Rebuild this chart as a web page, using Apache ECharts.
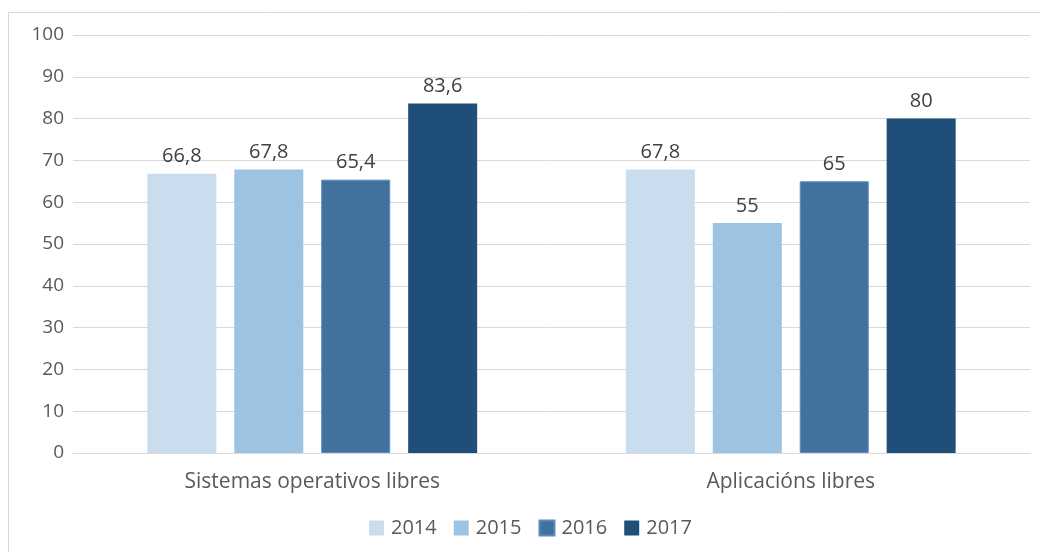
<!DOCTYPE html>
<html>
<head>
<meta charset="utf-8">
<script src="https://cdn.jsdelivr.net/npm/echarts@6/dist/echarts.min.js"></script>
<style>
  html, body { margin: 0; padding: 0; background: #fff; }
  #chart { width: 1040px; height: 552px; }
</style>
</head>
<body>
<div id="chart"></div>
<script>
var categories = ['Sistemas operativos libres', 'Aplicacións libres'];
var years = ['2014', '2015', '2016', '2017'];
var values2014 = [66.8, 67.8];
var values2015 = [67.8, 55];
var values2016 = [65.4, 65];
var values2017 = [83.6, 80];
var yTicks = { min: 0, max: 100, interval: 10 };

var colors = ['#c9ddef', '#9dc3e3', '#41719c', '#1f4e79'];
var seriesData = [values2014, values2015, values2016, values2017];
var font = '"Open Sans", sans-serif';

var myChart = echarts.init(document.getElementById('chart'));

var series = years.map(function (y, i) {
    return {
        name: y,
        type: 'bar',
        data: seriesData[i],
        barWidth: 69,
        barGap: '26%',
        itemStyle: {
            color: colors[i],
            borderColor: i == 2 ? '#5b8bbd' : colors[i],
            borderWidth: i == 2 ? 1 : 0
        },
        label: {
            show: true,
            position: 'top',
            distance: 7,
            color: '#404040',
            fontSize: 20,
            fontFamily: font,
            formatter: function (p) {
                return String(p.value).replace('.', ',');
            }
        }
    };
});

myChart.setOption({
    animation: false,
    graphic: [{
        type: 'rect',
        shape: { x: 8.5, y: 12.5, width: 1040, height: 560 },
        style: { fill: 'none', stroke: '#d9d9d9', lineWidth: 1 },
        silent: true
    }],
    grid: { left: 73, right: 10, top: 35, bottom: 99 },
    legend: {
        bottom: 9,
        left: 364,
        itemWidth: 15,
        itemHeight: 15,
        itemGap: 17,
        icon: 'rect',
        textStyle: { color: '#595959', fontSize: 20, fontFamily: font, padding: [0, 0, 0, 2] },
        data: years
    },
    xAxis: {
        type: 'category',
        data: categories,
        axisLine: { lineStyle: { color: '#d9d9d9', width: 1 } },
        axisTick: { show: false },
        axisLabel: { color: '#595959', fontSize: 21, fontFamily: font, margin: 19 }
    },
    yAxis: {
        type: 'value',
        min: yTicks.min,
        max: yTicks.max,
        interval: yTicks.interval,
        axisLine: { show: false },
        axisTick: { show: false },
        splitLine: { lineStyle: { color: '#d9d9d9', width: 1 } },
        axisLabel: { color: '#595959', fontSize: 19, fontFamily: font, margin: 9 }
    },
    series: series
});
</script>
</body>
</html>
